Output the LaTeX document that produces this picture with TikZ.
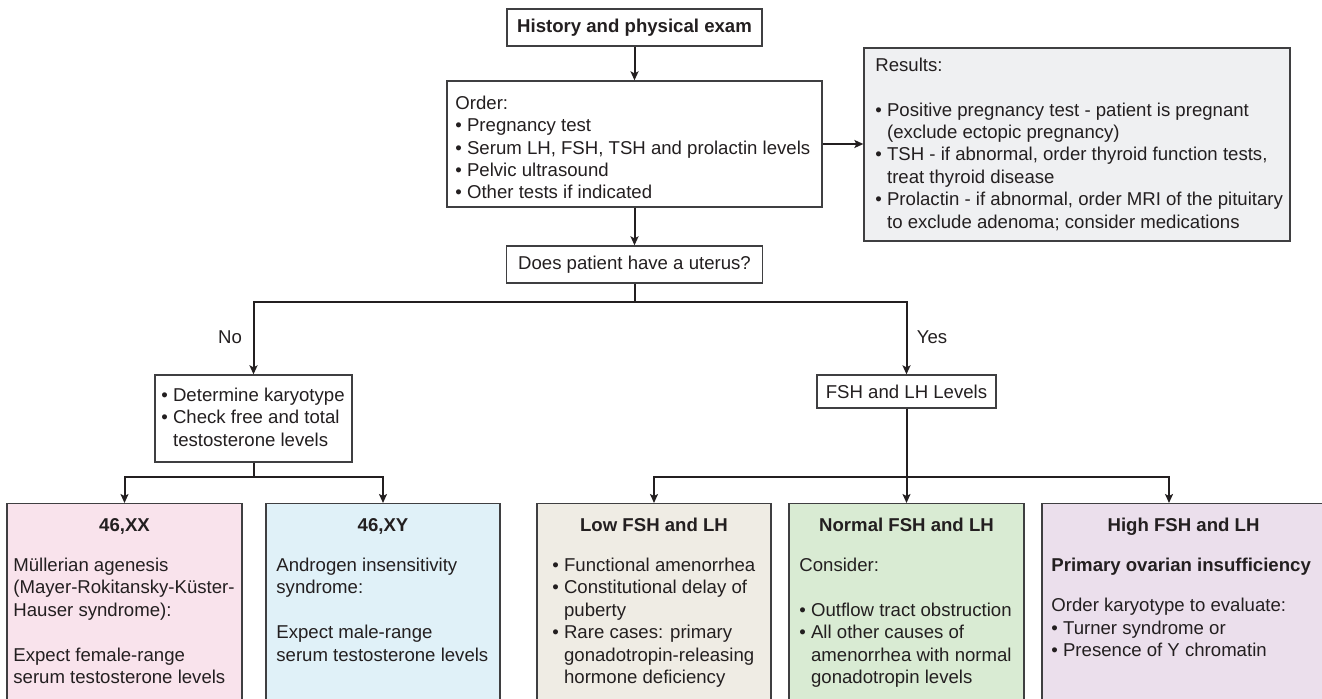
\documentclass[tikz,border=0pt]{standalone}
\usepackage{fontspec}
\setmainfont{Liberation Sans}
\usetikzlibrary{arrows.meta,calc}
\definecolor{ink}{HTML}{231F20}
\definecolor{edge}{HTML}{3F3F41}
\definecolor{resfill}{HTML}{EFF0F2}
\definecolor{xxfill}{HTML}{F9E3EC}
\definecolor{xyfill}{HTML}{E0F1F8}
\definecolor{lowfill}{HTML}{EFECE4}
\definecolor{normfill}{HTML}{D9EBD3}
\definecolor{highfill}{HTML}{EBDFEC}
% bullet and matching hanging indent
\newcommand{\fbul}{\textbullet\ }
\newcommand{\find}{\hphantom{\textbullet\ }}
% fixed first-line height so text blocks line up by baseline
\newcommand{\tstrut}{\rule{0pt}{9pt}}

\begin{document}
\begin{tikzpicture}[x=0.5pt,y=-0.5pt,
  font=\fontsize{9.3}{11.2}\selectfont, text=ink,
  box/.style={draw=edge, line width=0.65pt, rectangle, inner sep=0pt, fill=white},
  sz/.style 2 args={minimum width=#1*0.5pt, minimum height=#2*0.5pt},
  txt/.style={anchor=north west, align=left, inner sep=0pt},
  ttl/.style={font=\fontsize{9.3}{11.2}\selectfont\bfseries, inner sep=0pt, anchor=base},
  lbl/.style={inner sep=0pt, anchor=base},
  link/.style={draw=ink, line width=1pt},
  arr/.style={link, -{Stealth[length=4.5pt,width=4pt,inset=1pt]}}
]
\useasboundingbox (0,0) rectangle (1322,699);
\clip (0,0) rectangle (1322,699);

% ---- top of the chart ----
\node[box, sz={255}{37}, font=\fontsize{9.3}{11.2}\selectfont\bfseries] (hist) at (634.5,27.5) {History and physical exam};

\node[box, sz={375}{126}] (order) at (634.5,144) {};
\node[txt] (ordertxt) at (455,91) {\tstrut Order:\\
\fbul Pregnancy test\\
\fbul Serum LH, FSH, TSH and prolactin levels\\
\fbul Pelvic ultrasound\\
\fbul Other tests if indicated};

\node[box, fill=resfill, sz={426}{193}] (res) at (1077,144.5) {};
\node[txt] (restxt) at (875,53) {\tstrut Results:\\[11.2pt]
\fbul Positive pregnancy test - patient is pregnant\\
\find(exclude ectopic pregnancy)\\
\fbul TSH - if abnormal, order thyroid function tests,\\
\find treat thyroid disease\\
\fbul Prolactin - if abnormal, order MRI of the pituitary\\
\find to exclude adenoma; consider medications};

\node[box, sz={256}{37}] (uterus) at (634.5,264.5) {Does patient have a uterus?};

% ---- branches ----
\node[box, sz={197}{87}] (karyo) at (253.5,418.5) {};
\node[txt] (karyotxt) at (161,383) {\tstrut\fbul Determine karyotype\\
\fbul Check free and total\\
\find testosterone levels};

\node[box, sz={179}{33}] (fsh) at (906.5,391.5) {FSH and LH Levels};

\node[lbl] (no) at (230,344) {No};
\node[lbl] (yes) at (932,344) {Yes};

% ---- outcome boxes ----
\node[box, fill=xxfill, sz={235}{220}, anchor=north] (xx) at (124.5,503) {};
\node[box, fill=xyfill, sz={234}{220}, anchor=north] (xy) at (383,503) {};
\node[box, fill=lowfill, sz={234}{220}, anchor=north] (low) at (654,503) {};
\node[box, fill=normfill, sz={235}{220}, anchor=north] (normal) at (906.5,503) {};
\node[box, fill=highfill, sz={283}{220}, anchor=north] (high) at (1183.5,503) {};

\node[ttl] (xxt) at (124.5,531.5) {46,XX};
\node[ttl] (xyt) at (383,531.5) {46,XY};
\node[ttl] (lowt) at (654,531.5) {Low FSH and LH};
\node[ttl] (normalt) at (906.5,531.5) {Normal FSH and LH};
\node[ttl] (hight) at (1183.5,531.5) {High FSH and LH};

\node[txt] (xxtxt) at (13,553) {\tstrut M\"ullerian agenesis\\
(Mayer-Rokitansky-K\"uster-\\
Hauser syndrome):\\[11.2pt]
Expect female-range\\
serum testosterone levels};

\node[txt] (xytxt) at (276,553) {\tstrut Androgen insensitivity\\
syndrome:\\[11.2pt]
Expect male-range\\
serum testosterone levels};

\node[txt] (lowtxt) at (552,553) {\tstrut\fbul Functional amenorrhea\\
\fbul Constitutional delay of\\
\find puberty\\
\fbul Rare cases: primary\\
\find gonadotropin-releasing\\
\find hormone deficiency};

\node[txt] (normaltxt) at (799,553) {\tstrut Consider:\\[11.2pt]
\fbul Outflow tract obstruction\\
\fbul All other causes of\\
\find amenorrhea with normal\\
\find gonadotropin levels};

\node[txt] (hightxt) at (1051,553) {\tstrut\textbf{Primary ovarian insufficiency}\\[9pt]
Order karyotype to evaluate:\\
\fbul Turner syndrome or\\
\fbul Presence of Y chromatin};

% ---- connectors ----
\coordinate (split) at (634.5,302);
\coordinate (ksplit) at (253.5,477);
\coordinate (fsplit) at (906.5,477);
\coordinate (highin) at (1169,503);

\draw[arr] (hist.south) -- (order.north);
\draw[arr] (order.east) -- (order.east -| res.west);
\draw[arr] (order.south) -- (uterus.north);
\draw[arr] (uterus.south) -- (split) -| (karyo.north);
\draw[arr] (uterus.south) -- (split) -| (fsh.north);
\draw[arr] (karyo.south) -- (ksplit) -| (xx.north);
\draw[arr] (karyo.south) -- (ksplit) -| (xy.north);
\draw[arr] (fsh.south) -- (fsplit) -| (low.north);
\draw[arr] (fsh.south) -- (normal.north);
\draw[arr] (fsplit) -| (highin);
\end{tikzpicture}
\end{document}
